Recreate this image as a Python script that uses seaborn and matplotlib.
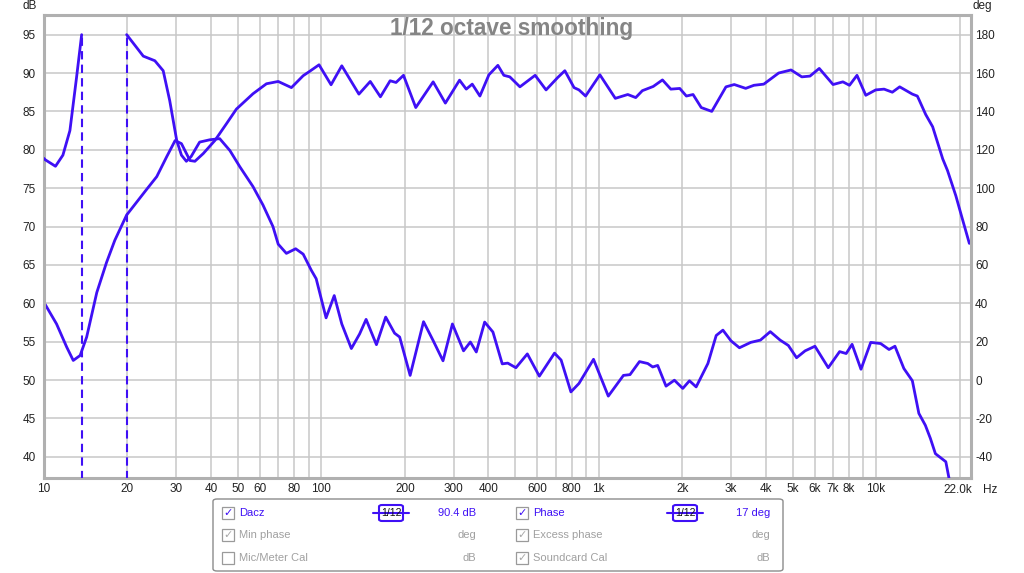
import numpy as np
import pandas as pd
import matplotlib
matplotlib.use('Agg')
import matplotlib.pyplot as plt
import seaborn as sns
from matplotlib.patches import Rectangle, FancyBboxPatch
from matplotlib.lines import Line2D

# SPL curve (Hz, dB)
spl_freq = [10, 10.1, 11.1, 12.07, 12.75, 13.5, 14.25, 15.5, 16.8, 18.0, 19.86, 23.4, 25.5, 27.7,
            29.7, 31.3, 33.6, 35, 37.5, 41.3, 45.5, 49.4, 56.7, 63.4, 69.9, 78, 86, 90.6, 98.1,
            108.4, 118.5, 136.6, 150.1, 163.3, 177, 185.9, 197.8, 219, 253, 280, 315, 333, 350,
            373, 402, 433, 455, 478, 520, 590, 646, 711, 755, 815, 849, 897, 1010, 1148, 1273,
            1360, 1437, 1573, 1698, 1820, 1960, 2071, 2189, 2343, 2557, 2877, 3082, 3389, 3628,
            3937, 4456, 4939, 5399, 5780, 6241, 7000, 7595, 8022, 8538, 9185, 9976, 10690, 11450,
            12170, 13520, 14090, 14300, 15100, 16000, 17400, 18100, 19400, 20400, 21700]
spl_db = [60.0, 59.84, 57.3, 54.3, 52.55, 53.2, 55.6, 61.4, 65.3, 68.2, 71.5, 74.8, 76.5, 79.1,
          81.2, 80.8, 78.6, 78.5, 79.5, 81.2, 83.4, 85.3, 87.3, 88.6, 88.9, 88.1, 89.65, 90.2, 91.07,
          88.47, 90.94, 87.25, 88.9, 86.9, 88.99, 88.77, 89.7, 85.5, 88.85, 86.08, 89.07, 87.9, 88.55,
          87.0, 89.77, 91.0, 89.7, 89.5, 88.2, 89.7, 87.8, 89.4, 90.3, 88.1, 87.8, 87.0, 89.77, 86.7, 87.2,
          86.8, 87.7, 88.25, 89.1, 87.9, 87.99, 87.0, 87.2, 85.5, 85.0, 88.2, 88.5, 88.0, 88.4,
          88.55, 90.0, 90.4, 89.5, 89.6, 90.6, 88.5, 88.85, 88.4, 89.7, 87.1, 87.8, 87.9, 87.5,
          88.2, 87.25, 87.0, 86.5, 84.6, 83.0, 78.8, 77.3, 74.0, 71.2, 67.8]

# phase below the first wrap (Hz, deg)
phase_lo_freq = [10, 10.1, 11, 11.7, 12.4, 13.1, 13.67]
phase_lo_deg = [115.5, 114.8, 111.4, 117.2, 130, 157.6, 180]

# phase after the second wrap (Hz, deg)
phase_freq = [19.86, 21.6, 22.8, 25.1, 26.9, 28.4, 30.1, 31.3, 32.6, 33.9, 36.4, 39.6, 43, 46.8,
              50.8, 56.7, 61.6, 66.9, 69.9, 74.8, 80.8, 86, 92, 95.8, 104, 111.3, 118.5, 128.3,
              137.4, 145, 158, 170.6, 183.7, 191.6, 209, 233.6, 252.5, 274.6, 296.9, 325.6, 344.6,
              362, 388, 415.6, 449, 470, 503, 553, 611, 693, 732, 794, 849, 958, 1083, 1228, 1297,
              1403, 1503, 1566, 1632, 1749, 1875, 2010, 2125, 2246, 2476, 2653, 2805, 3000, 3217,
              3533, 3830, 4156, 4510, 4829, 5170, 5550, 6022, 6726, 7391, 7805, 8197, 8825, 9570,
              10390, 11140, 11700, 12600, 13520, 14270, 15060, 15700, 16370, 17850, 18600]
phase_deg = [180, 173.2, 168.8, 166.4, 161.2, 145.6, 124.8, 117.2, 114, 116.4, 124, 125.2, 125.8, 119.6,
             111.2, 100.8, 91.2, 80, 70.8, 66, 68.4, 65.6, 57.2, 52.8, 32.4, 44, 29.2, 16.4,
             24, 31.6, 18.4, 32.8, 24.4, 22.4, 2.4, 30.4, 20.8, 10, 29.2, 15.2, 19.8,
             14.6, 30.2, 25, 8.4, 8.8, 6.4, 13.6, 2, 14, 10.4, -6.2, -1.8, 10.8, -8.4, 2.4, 2.8,
             9.6, 8.6, 6.8, 7.6, -3.2, -0.1, -4.4, -0.4, -3.6, 8.6, 23.2, 26, 20.4, 16.8,
             19.6, 20.8, 25.2, 20.8, 18, 11.6, 15.2, 17.6, 6.4, 14.8, 13.8, 18.6, 5.6, 19.6,
             19, 15.9, 17.6, 6, -0.4, -17.4, -23.6, -30.4, -38.4, -42.6, -56]

wrap_freq = [13.67, 19.86]

grid_freq = [20, 30, 40, 50, 60, 70, 80, 90, 100, 200, 300, 400, 500, 600, 700, 800, 900,
             1000, 2000, 3000, 4000, 5000, 6000, 7000, 8000, 9000, 10000, 20000]
tick_text = {10: '10', 20: '20', 30: '30', 40: '40', 50: '50', 60: '60', 80: '80', 100: '100',
             200: '200', 300: '300', 400: '400', 600: '600', 800: '800', 1000: '1k', 2000: '2k',
             3000: '3k', 4000: '4k', 5000: '5k', 6000: '6k', 7000: '7k', 8000: '8k', 10000: '10k'}

LINE = '#3f10f5'
GRAYTXT = '#a0a0a0'

sns.set_theme(style='white')
plt.rcParams['font.family'] = ['Liberation Sans', 'DejaVu Sans']
plt.rcParams['axes.unicode_minus'] = False

W, H = 1024, 573
fig = plt.figure(figsize=(W / 100, H / 100), dpi=100)
fig.patch.set_facecolor('white')


def fx(x):
    return x / W


def fy(y):
    return 1 - y / H


ax = fig.add_axes([fx(44), fy(477.7), (971 - 44) / W, (477.7 - 15) / H])
ax.set_xscale('log')
ax.set_xlim(10, 22000)
ax.set_ylim(37.27, 97.56)
ax2 = ax.twinx()
ax2.set_ylim(4 * 37.27 - 200, 4 * 97.56 - 200)

xt = [10] + grid_freq
ax.set_xticks(xt)
ax.set_xticklabels([tick_text.get(f, '') for f in xt])
ax.xaxis.set_minor_locator(matplotlib.ticker.NullLocator())
ax.set_yticks(range(40, 96, 5))
ax2.set_yticks(range(-40, 181, 20))
ax.grid(True, color='#c8c8c8', lw=1.1)
ax2.grid(False)

spl = pd.DataFrame({'freq': spl_freq, 'db': spl_db})
ph_lo = pd.DataFrame({'freq': phase_lo_freq, 'deg': phase_lo_deg})
ph = pd.DataFrame({'freq': phase_freq, 'deg': phase_deg})

line_kw = dict(color=LINE, lw=2.0, estimator=None, legend=False,
               solid_joinstyle='round', solid_capstyle='round')
sns.lineplot(data=spl, x='freq', y='db', ax=ax, **line_kw)
sns.lineplot(data=ph_lo, x='freq', y='deg', ax=ax2, **line_kw)
sns.lineplot(data=ph, x='freq', y='deg', ax=ax2, **line_kw)
ax2.vlines(wrap_freq, -180, 180, colors=LINE, linestyles=(0, (4, 2.5)), lw=1.5)

for a in (ax, ax2):
    a.set_xlabel('')
    a.set_ylabel('')
for s in ax.spines.values():
    s.set_color('#b0b0b0')
    s.set_linewidth(2.2)
for s in ax2.spines.values():
    s.set_visible(False)

ax.tick_params(axis='x', length=0, pad=4, labelsize=8.5, colors='#222222')
ax.tick_params(axis='y', length=0, pad=6, labelsize=8.5, colors='#222222')
ax2.tick_params(axis='y', length=0, pad=3, labelsize=8.5, colors='#222222')

fig.text(fx(512), fy(28), '1/12 octave smoothing', ha='center', va='center',
         fontsize=16.3, fontweight='bold', color='#858585')
fig.text(fx(30), fy(6), 'dB', ha='center', va='center', fontsize=8.5, color='#222222')
fig.text(fx(982), fy(6), 'deg', ha='center', va='center', fontsize=8.5, color='#222222')
fig.text(fx(958), fy(490), '22.0k', ha='center', va='center', fontsize=8.5, color='#222222')
fig.text(fx(990), fy(490), 'Hz', ha='center', va='center', fontsize=8.5, color='#222222')

# legend panel
fig.patches.append(FancyBboxPatch((fx(213), fy(571)), 570 / W, 72 / H,
                                  boxstyle='round,pad=0,rounding_size=0.004',
                                  transform=fig.transFigure, fc='white', ec='#8c8c8c', lw=1.0))

rows = [
    (513, [('Dacz', '90.4 dB', True, LINE, True), ('Phase', '17 deg', True, LINE, True)]),
    (535, [('Min phase', 'deg', True, GRAYTXT, False), ('Excess phase', 'deg', True, GRAYTXT, False)]),
    (558, [('Mic/Meter Cal', 'dB', False, GRAYTXT, False), ('Soundcard Cal', 'dB', True, GRAYTXT, False)]),
]
cols = [228, 522]
for ry, items in rows:
    for cx, (name, val, checked, col, icon) in zip(cols, items):
        fig.patches.append(Rectangle((fx(cx - 6), fy(ry + 6)), 12 / W, 12 / H, transform=fig.transFigure,
                                     fc='white', ec='#9a9a9a', lw=0.9))
        if checked:
            fig.text(fx(cx), fy(ry), '\u2713', ha='center', va='center', fontsize=8,
                     color=LINE if col == LINE else '#a8a8a8', family='DejaVu Sans')
        fig.text(fx(cx + 11), fy(ry), name, ha='left', va='center', fontsize=8, color=col)
        fig.text(fx(cx + 248), fy(ry), val, ha='right', va='center', fontsize=8, color=col)
        if icon:
            ic = cx + 163
            fig.lines.append(Line2D([fx(ic - 18), fx(ic + 18)], [fy(ry), fy(ry)],
                                    transform=fig.transFigure, color=LINE, lw=1.5))
            fig.patches.append(FancyBboxPatch((fx(ic - 12), fy(ry + 8)), 24 / W, 16 / H,
                                              boxstyle='round,pad=0,rounding_size=0.003',
                                              transform=fig.transFigure, fc='white', ec=LINE, lw=1.5))
            fig.text(fx(ic), fy(ry), '1/12', ha='center', va='center', fontsize=7.5, color='#111111')

fig.savefig('out.png', dpi=100, facecolor='white')
